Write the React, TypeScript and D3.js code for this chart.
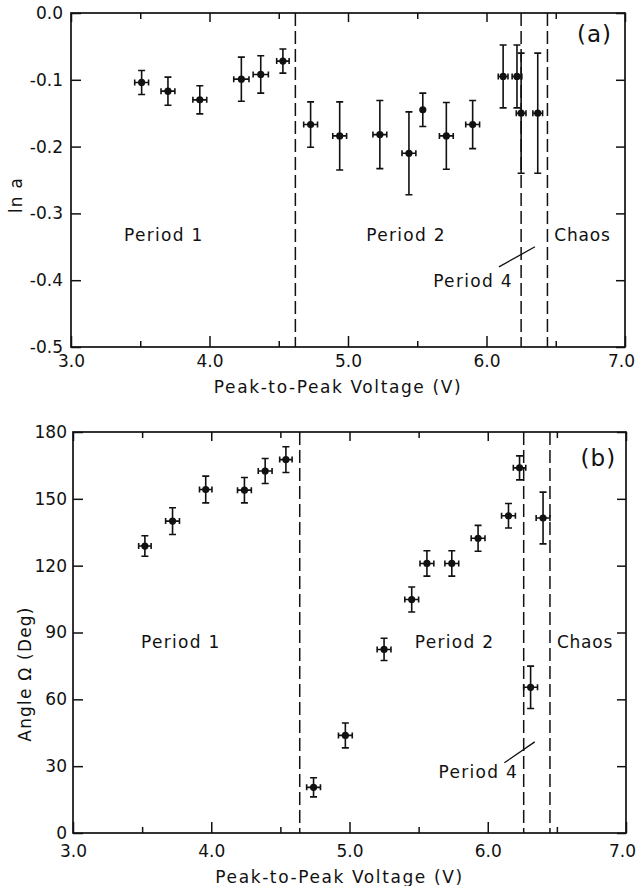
import React, { useEffect, useRef } from "react";
import * as d3 from "d3";

const WIDTH = 638;
const HEIGHT = 886;

// panel (a): ln a against drive voltage
const voltA = [3.51, 3.7, 3.93, 4.23, 4.37, 4.53, 4.73, 4.94, 5.23, 5.44, 5.54, 5.71, 5.9, 6.12, 6.22, 6.25, 6.37];
const voltErrA = [0.05, 0.05, 0.05, 0.055, 0.055, 0.045, 0.05, 0.05, 0.05, 0.05, 0, 0.05, 0.05, 0.035, 0.035, 0.035, 0.035];
const lnA = [-0.104, -0.117, -0.13, -0.099, -0.092, -0.072, -0.167, -0.184, -0.182, -0.21, -0.145, -0.184, -0.167, -0.095, -0.095, -0.15, -0.15];
const lnErrA = [0.018, 0.021, 0.021, 0.033, 0.028, 0.018, 0.034, 0.051, 0.051, 0.062, 0.025, 0.05, 0.036, 0.047, 0.047, 0.09, 0.09];

// panel (b): angle Omega against drive voltage
const voltB = [3.52, 3.72, 3.96, 4.24, 4.39, 4.54, 4.74, 4.97, 5.25, 5.45, 5.56, 5.74, 5.93, 6.15, 6.23, 6.31, 6.4];
const voltErrB = [0.045, 0.05, 0.045, 0.05, 0.05, 0.045, 0.05, 0.05, 0.05, 0.05, 0.05, 0.05, 0.05, 0.05, 0.045, 0.05, 0.05];
const angleB = [128.8, 140, 154.2, 153.9, 162.5, 167.6, 20.5, 43.8, 82.4, 104.8, 121, 121, 132.3, 142.4, 163.9, 65.4, 141.4];
const angleErrB = [4.6, 6, 6, 5.7, 5.6, 5.8, 4.3, 5.6, 5, 5.6, 5.7, 5.7, 5.8, 5.5, 5.4, 9.5, 11.6];

const xTicks = [3, 4, 5, 6, 7];
const xMinorTicks = [3.5, 4.5, 5.5, 6.5];
const lnTicks = [0, -0.1, -0.2, -0.3, -0.4, -0.5];
const angleTicks = [0, 30, 60, 90, 120, 150, 180];

// regime boundaries (V)
const boundsA = [4.62, 6.25, 6.44];
const boundsB = [4.64, 6.26, 6.45];

const FONT = "'DejaVu Sans', sans-serif";
const INK = "#111";

interface PanelOpts {
  x: d3.ScaleLinear<number, number>;
  y: d3.ScaleLinear<number, number>;
  xs: number[];
  xe: number[];
  ys: number[];
  ye: number[];
  yTicks: number[];
  yFormat: (d: number) => string;
  yPad: number;
  xPad: number;
  bounds: number[];
  yTitle: string;
  yTitlePos: [number, number];
  xTitleY: number;
  tag: string;
  tagPos: [number, number];
  regimeY: number;
  p1: number;
  p2: number;
  p4: [number, number];
  leader: [number, number, number, number];
}

function drawPanel(svg: d3.Selection<SVGSVGElement, unknown, null, undefined>, o: PanelOpts) {
  const { x, y } = o;
  const [x0, x1] = x.range();
  const [yb, yt] = y.range();
  const g = svg.append("g");

  const styleAxis = (sel: d3.Selection<SVGGElement, unknown, null, undefined>) => {
    sel.select(".domain").remove();
    sel.selectAll("line").attr("stroke", INK).attr("stroke-width", 1.5);
    sel.selectAll("text").attr("fill", INK).style("font-family", FONT).style("font-size", "17px");
  };

  // ticks pointing inward on all four sides
  g.append("g")
    .attr("transform", `translate(${x0},0)`)
    .call(d3.axisLeft(y).tickValues(o.yTicks).tickSize(-10).tickPadding(o.yPad).tickFormat((d) => o.yFormat(d as number)))
    .call(styleAxis);
  g.append("g")
    .attr("transform", `translate(${x1},0)`)
    .call(d3.axisRight(y).tickValues(o.yTicks).tickSize(-9).tickFormat(() => ""))
    .call(styleAxis);
  const bottom = g.append("g")
    .attr("transform", `translate(0,${yb})`)
    .call(d3.axisBottom(x).tickValues(xTicks).tickSize(-11).tickPadding(o.xPad).tickFormat((d) => (d as number).toFixed(1)))
    .call(styleAxis);
  // last label sits just inside the page edge
  bottom.selectAll<SVGTextElement, number>("text").filter((d) => d === 7).attr("dx", -4);
  g.append("g")
    .attr("transform", `translate(0,${yb})`)
    .call(d3.axisBottom(x).tickValues(xMinorTicks).tickSize(-6).tickFormat(() => ""))
    .call(styleAxis);
  g.append("g")
    .attr("transform", `translate(0,${yt})`)
    .call(d3.axisTop(x).tickValues(xTicks).tickSize(-9).tickFormat(() => ""))
    .call(styleAxis);
  g.append("g")
    .attr("transform", `translate(0,${yt})`)
    .call(d3.axisTop(x).tickValues(xMinorTicks).tickSize(-6).tickFormat(() => ""))
    .call(styleAxis);

  g.append("rect")
    .attr("x", x0)
    .attr("y", yt)
    .attr("width", x1 - x0)
    .attr("height", yb - yt)
    .attr("fill", "none")
    .attr("stroke", INK)
    .attr("stroke-width", 1.7);

  // regime boundaries
  g.selectAll(".bound")
    .data(o.bounds)
    .enter()
    .append("line")
    .attr("x1", (d) => x(d))
    .attr("x2", (d) => x(d))
    .attr("y1", yt)
    .attr("y2", yb)
    .attr("stroke", INK)
    .attr("stroke-width", 1.5)
    .attr("stroke-dasharray", "13,5");

  // error bars + points
  const pts = g
    .selectAll(".pt")
    .data(o.xs.map((v, i) => ({ v, ve: o.xe[i], m: o.ys[i], me: o.ye[i] })))
    .enter()
    .append("g")
    .attr("class", "pt");
  const cap = 3.5;
  pts.append("path")
    .attr("fill", "none")
    .attr("stroke", INK)
    .attr("stroke-width", 1.6)
    .attr("d", (d) => {
      const cx = x(d.v);
      const ya = y(d.m + d.me);
      const yb2 = y(d.m - d.me);
      let p = `M${cx},${ya}V${yb2}M${cx - cap},${ya}H${cx + cap}M${cx - cap},${yb2}H${cx + cap}`;
      if (d.ve > 0) {
        const xa = x(d.v - d.ve);
        const xb = x(d.v + d.ve);
        const cy = y(d.m);
        p += `M${xa},${cy}H${xb}M${xa},${cy - 3}V${cy + 3}M${xb},${cy - 3}V${cy + 3}`;
      }
      return p;
    });
  pts.append("circle")
    .attr("cx", (d) => x(d.v))
    .attr("cy", (d) => y(d.m))
    .attr("r", 3.6)
    .attr("fill", INK);

  const label = (txt: string, px: number, py: number, anchor: string, size = 17, spacing = 1.3) =>
    g.append("text")
      .attr("x", px)
      .attr("y", py)
      .attr("text-anchor", anchor)
      .attr("dominant-baseline", "central")
      .attr("fill", INK)
      .style("font-family", FONT)
      .style("font-size", `${size}px`)
      .style("letter-spacing", `${spacing}px`)
      .text(txt);

  label("Period 1", x(o.p1), y(o.regimeY), "middle");
  label("Period 2", x(o.p2), y(o.regimeY), "middle");
  label("Chaos", x(o.bounds[2] + 0.05), y(o.regimeY), "start", 17, 0.8);
  label("Period 4", x(o.p4[0]), y(o.p4[1]), "end");
  label(o.tag, x(o.tagPos[0]), y(o.tagPos[1]), "middle", 23, 1);

  g.append("line")
    .attr("x1", x(o.leader[0]))
    .attr("y1", y(o.leader[1]))
    .attr("x2", x(o.leader[2]))
    .attr("y2", y(o.leader[3]))
    .attr("stroke", INK)
    .attr("stroke-width", 1.3);

  // axis titles
  g.append("text")
    .attr("transform", `translate(${o.yTitlePos[0]},${o.yTitlePos[1]}) rotate(-90)`)
    .attr("text-anchor", "middle")
    .attr("dominant-baseline", "central")
    .attr("fill", INK)
    .style("font-family", FONT)
    .style("font-size", "17px")
    .style("letter-spacing", "1.2px")
    .text(o.yTitle);
  g.append("text")
    .attr("x", (x0 + x1) / 2 - 10)
    .attr("y", o.xTitleY)
    .attr("text-anchor", "middle")
    .attr("dominant-baseline", "central")
    .attr("fill", INK)
    .style("font-family", FONT)
    .style("font-size", "17px")
    .style("letter-spacing", "1.6px")
    .text("Peak-to-Peak Voltage (V)");
}

const App: React.FC = () => {
  const svgRef = useRef<SVGSVGElement | null>(null);

  useEffect(() => {
    if (!svgRef.current) return;
    const svg = d3.select(svgRef.current);
    svg.selectAll("*").remove();

    const xA = d3.scaleLinear().domain([3, 7]).range([71, 625]);
    const yA = d3.scaleLinear().domain([-0.5, 0]).range([347, 13]);
    drawPanel(svg, {
      x: xA,
      y: yA,
      xs: voltA,
      xe: voltErrA,
      ys: lnA,
      ye: lnErrA,
      yTicks: lnTicks,
      yFormat: (d) => d.toFixed(1),
      yPad: 8,
      xPad: 8,
      bounds: boundsA,
      yTitle: "ln a",
      yTitlePos: [16, 195],
      xTitleY: 387,
      tag: "(a)",
      tagPos: [6.78, -0.031],
      regimeY: -0.333,
      p1: 3.67,
      p2: 5.42,
      p4: [6.19, -0.401],
      leader: [6.09, -0.38, 6.35, -0.35],
    });

    const xB = d3.scaleLinear().domain([3, 7]).range([73, 626]);
    const yB = d3.scaleLinear().domain([0, 180]).range([833, 432]);
    drawPanel(svg, {
      x: xB,
      y: yB,
      xs: voltB,
      xe: voltErrB,
      ys: angleB,
      ye: angleErrB,
      yTicks: angleTicks,
      yFormat: (d) => String(d),
      yPad: 6,
      xPad: 12,
      bounds: boundsB,
      yTitle: "Angle  Ω (Deg)",
      yTitlePos: [25, 674],
      xTitleY: 877,
      tag: "(b)",
      tagPos: [6.8, 168.3],
      regimeY: 85.7,
      p1: 3.78,
      p2: 5.76,
      p4: [6.22, 27.4],
      leader: [6.12, 31.5, 6.34, 40.9],
    });
  }, []);

  return (
    <div style={{ position: "absolute", left: 0, top: 0 }}>
      <svg ref={svgRef} width={WIDTH} height={HEIGHT} style={{ display: "block", background: "#fff" }} />
    </div>
  );
};

export default App;
